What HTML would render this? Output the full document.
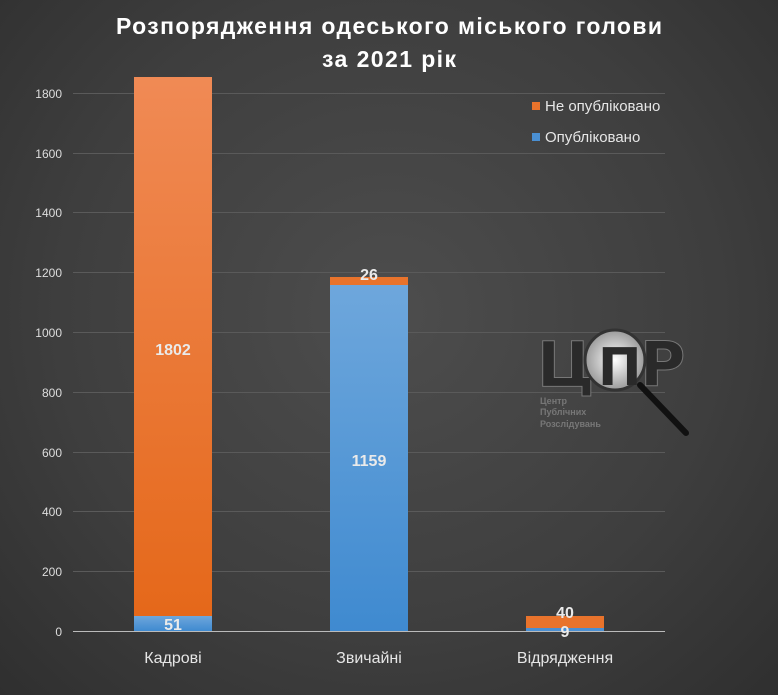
<!DOCTYPE html>
<html><head><meta charset="utf-8"><style>
html,body{margin:0;padding:0}
body{width:778px;height:695px;overflow:hidden;background:radial-gradient(ellipse at 50% 45%,#4d4d4d 0%,#3e3e3e 60%,#2f2f2f 100%);font-family:"Liberation Sans","DejaVu Sans",sans-serif;}
</style></head><body>
<svg width="778" height="695" xmlns="http://www.w3.org/2000/svg" style="position:absolute;left:0;top:0">
<defs>
<linearGradient id="og" x1="0" y1="0" x2="0" y2="1"><stop offset="0" stop-color="#f08a55"/><stop offset="1" stop-color="#e5681a"/></linearGradient>
<linearGradient id="bg" x1="0" y1="0" x2="0" y2="1"><stop offset="0" stop-color="#6ea7dc"/><stop offset="1" stop-color="#3f8ad0"/></linearGradient>
<radialGradient id="lens"><stop offset="0" stop-color="#ffffff"/><stop offset="1" stop-color="#9a9a9a"/></radialGradient>
</defs>
<g font-family="Liberation Sans, DejaVu Sans, sans-serif" font-weight="bold" fill="#fff" font-size="23" text-anchor="middle">
<text x="389" y="34" textLength="546" lengthAdjust="spacing">Розпорядження одеського міського голови</text>
<text x="389" y="67" textLength="134" lengthAdjust="spacing">за 2021 рік</text>
</g>
<g stroke="#5a5a5a" stroke-width="1">
<line x1="73" x2="665" y1="93.5" y2="93.5"/><line x1="73" x2="665" y1="153.5" y2="153.5"/>
<line x1="73" x2="665" y1="212.5" y2="212.5"/><line x1="73" x2="665" y1="272.5" y2="272.5"/>
<line x1="73" x2="665" y1="332.5" y2="332.5"/><line x1="73" x2="665" y1="392.5" y2="392.5"/>
<line x1="73" x2="665" y1="452.5" y2="452.5"/><line x1="73" x2="665" y1="511.5" y2="511.5"/>
<line x1="73" x2="665" y1="571.5" y2="571.5"/>
</g>
<g fill="#ddd" font-size="12" text-anchor="end">
<text x="62" y="98">1800</text><text x="62" y="158">1600</text><text x="62" y="217">1400</text>
<text x="62" y="277">1200</text><text x="62" y="337">1000</text><text x="62" y="397">800</text>
<text x="62" y="457">600</text><text x="62" y="516">400</text><text x="62" y="576">200</text>
<text x="62" y="636">0</text>
</g>
<rect x="134" y="77" width="78" height="539" fill="url(#og)"/>
<rect x="134" y="616" width="78" height="15" fill="url(#bg)"/>
<rect x="330" y="277" width="78" height="8" fill="#e8732c"/>
<rect x="330" y="285" width="78" height="346" fill="url(#bg)"/>
<rect x="526" y="616" width="78" height="12" fill="#e8732c"/>
<rect x="526" y="628" width="78" height="3" fill="#4a8fd2"/>
<line x1="73" x2="665" y1="631.5" y2="631.5" stroke="#bbb" stroke-width="1"/>
<g font-weight="bold" font-size="16" fill="#eaeaea" text-anchor="middle">
<text x="173" y="355">1802</text><text x="173" y="630">51</text>
<text x="369" y="280">26</text><text x="369" y="466">1159</text>
<text x="565" y="618">40</text><text x="565" y="637">9</text>
</g>
<g fill="#e6e6e6" font-size="16" text-anchor="middle">
<text x="173" y="663">Кадрові</text><text x="369" y="663">Звичайні</text><text x="565" y="663">Відрядження</text>
</g>
<rect x="532" y="102" width="8" height="8" fill="#e8732c"/>
<text x="545" y="111" fill="#e6e6e6" font-size="15">Не опубліковано</text>
<rect x="532" y="133" width="8" height="8" fill="#4a8fd2"/>
<text x="545" y="142" fill="#e6e6e6" font-size="15">Опубліковано</text>
<g>
<line x1="640" y1="385" x2="686" y2="433" stroke="#111" stroke-width="6" stroke-linecap="round"/>
<text x="537" y="386" font-size="62" font-weight="bold" fill="#2a2a2a" stroke="#777" stroke-width="1" font-family="DejaVu Sans, sans-serif">Ц</text>
<text x="640" y="386" font-size="62" font-weight="bold" fill="#2a2a2a" stroke="#777" stroke-width="1" font-family="DejaVu Sans, sans-serif">Р</text>
<circle cx="615" cy="360" r="30" fill="url(#lens)" stroke="#333" stroke-width="3"/>
<text x="598" y="385" font-size="52" font-weight="bold" fill="#2a2a2a" font-family="DejaVu Sans, sans-serif">П</text>
<g font-size="9" fill="#777" font-weight="bold"><text x="540" y="404">Центр</text><text x="540" y="415">Публічних</text><text x="540" y="427">Розслідувань</text></g>
</g>
</svg>
</body></html>
